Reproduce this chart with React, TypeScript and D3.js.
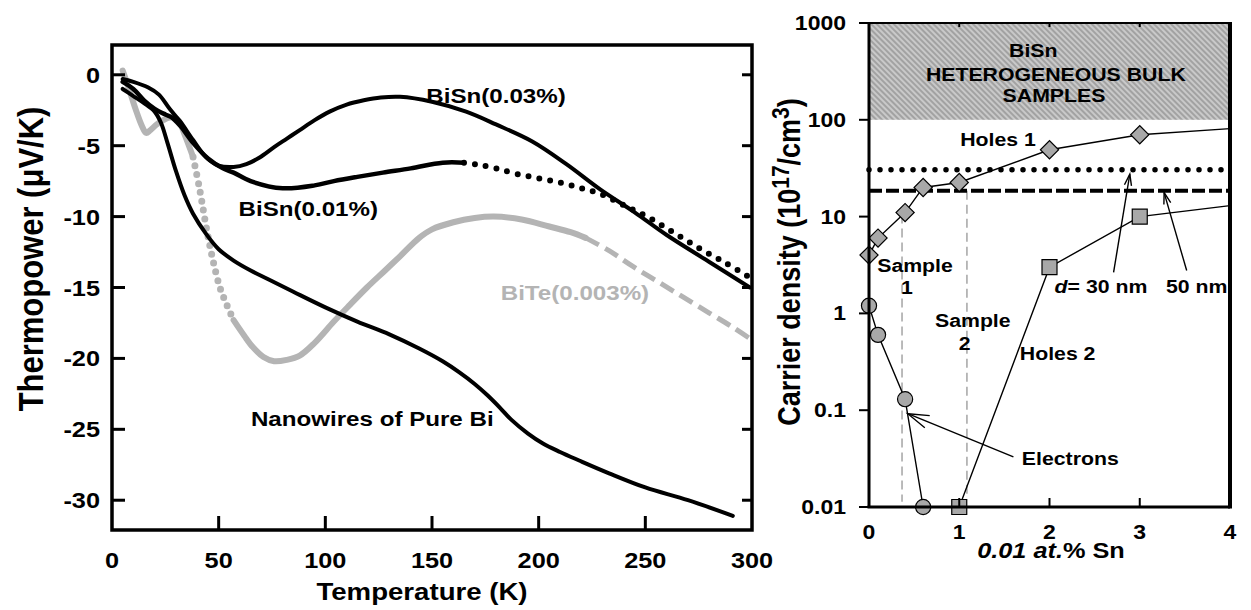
import React from "react";
import * as d3 from "d3";

// ---- left panel: thermopower vs temperature ----
const tempTicks = [0, 50, 100, 150, 200, 250, 300];
const tpTicks = [0, -5, -10, -15, -20, -25, -30];

const bisn003 = [
  [5, -0.3], [10, -0.5], [17, -0.9], [22, -1.4], [27, -2.4], [32, -3.3],
  [38, -4.6], [44, -5.8], [50, -6.4], [57, -6.5], [63, -6.3], [69, -5.85],
  [76, -5.1], [82, -4.5], [88, -3.9], [95, -3.2], [102, -2.6], [110, -2.1],
  [118, -1.8], [126, -1.6], [135, -1.55], [150, -1.9], [166, -2.6], [180, -3.5],
  [197, -4.7], [213, -6.3], [229, -8.1], [245, -9.7], [260, -11.3], [280, -13.2],
  [299, -15.0],
];

const bisn001 = [
  [5, -0.5], [10, -1.0], [15, -1.8], [20, -2.4], [25, -2.8], [28, -3.0],
  [32, -3.6], [38, -4.8], [45, -5.9], [52, -6.6], [57, -6.9], [65, -7.5],
  [80, -8.0], [95, -7.8], [104, -7.5], [115, -7.2], [127, -6.9], [140, -6.6],
  [155, -6.2], [165, -6.2], [172, -6.35], [180, -6.6], [190, -7.0], [200, -7.3],
  [210, -7.6], [220, -8.0], [229, -8.4], [240, -9.2], [252, -10.1], [264, -11.2],
  [276, -12.3], [288, -13.3], [299, -14.3],
];
const bisn001DotsFrom = 165;

const biTe = [
  [5, 0.3], [8, -1.0], [11, -2.4], [14, -3.6], [16, -4.1], [18, -3.9],
  [21, -3.5], [24, -3.2], [28, -3.0], [31, -3.2], [34, -4.2], [38, -5.8],
  [41, -8.0], [44.5, -11.0], [47.5, -13.2], [50.6, -15.0], [54, -16.3], [57, -17.3],
  [62, -18.4], [66, -19.2], [71, -19.9], [76, -20.2], [82, -20.1], [88, -19.8],
  [95, -18.9], [104, -17.4], [111, -16.3], [119.5, -15.0], [128, -13.8], [135, -12.8],
  [144, -11.5], [150, -10.9], [160, -10.4], [170, -10.1], [179, -10.0], [192, -10.2],
  [205, -10.7], [215, -11.1], [222, -11.5], [233, -12.4], [244, -13.5], [256, -14.6],
  [268, -15.7], [280, -16.8], [291, -17.8], [300, -18.7],
];
// where the grey trace changes look: solid, sparse dots, solid, dashes
const biTeBreaks = [5, 38, 57, 222, 300];

const pureBi = [
  [5, -1.0], [10, -1.5], [15, -2.0], [20, -2.6], [23, -3.4], [26, -4.8],
  [30, -6.8], [34, -8.5], [38, -9.8], [44, -11.2], [50, -12.3], [57, -13.1],
  [65, -13.8], [73, -14.4], [85, -15.3], [100, -16.4], [115, -17.4], [130, -18.3],
  [144, -19.3], [155, -20.2], [163, -21.0], [170, -21.8], [176, -22.6], [182, -23.5],
  [187, -24.3], [195, -25.3], [202, -26.0], [210, -26.6], [219, -27.2], [233, -28.1],
  [250, -29.1], [270, -30.0], [291, -31.1],
];

const leftLabels = [
  { text: "BiSn(0.03%)", t: 180, v: -2.0, grey: false },
  { text: "BiSn(0.01%)", t: 92, v: -9.95, grey: false },
  { text: "BiTe(0.003%)", t: 217, v: -15.9, grey: true },
  { text: "Nanowires of Pure Bi", t: 122, v: -24.8, grey: false },
];

// ---- right panel: carrier density vs Sn content ----
const snTicks = [0, 1, 2, 3, 4];
const densTicks = [0.01, 0.1, 1, 10, 100, 1000];
const densTickLabels = ["0.01", "0.1", "1", "10", "100", "1000"];

// last point of each holes series is where the line leaves the frame (no marker)
const holes1 = [[0, 4], [0.1, 6], [0.4, 11], [0.6, 20], [1, 22.5], [2, 49], [3, 70], [4, 81]];
const holes2 = [[1, 0.01], [2, 3], [3, 10], [4, 13]];
const electrons = [[0, 1.2], [0.1, 0.6], [0.4, 0.13], [0.6, 0.01]];

const wire30 = 30.5;
const wire50 = 18.5;
const bulkRange = [100, 1000];

const sampleLines = [
  { x: 0.366, top: 10.5, bottom: 0.0113 },
  { x: 1.085, top: 18.5, bottom: 0.0125 },
];

const arrows = [
  { from: [1.6, 0.033], to: [0.43, 0.092], head: 22 },
  { from: [2.71, 2.65], to: [2.89, 27.5], head: 12 },
  { from: [3.52, 2.77], to: [3.27, 17.7], head: 12 },
];

const rightLabels = [
  { text: "Holes 1", x: 1.43, y: 54 },
  { text: "Sample", x: 0.51, y: 2.65 },
  { text: "1", x: 0.42, y: 1.57 },
  { text: "Sample", x: 1.15, y: 0.73 },
  { text: "2", x: 1.06, y: 0.416 },
  { text: "Holes 2", x: 2.09, y: 0.327 },
  { text: "Electrons", x: 2.23, y: 0.0271 },
  { text: "50 nm", x: 3.63, y: 1.61 },
];
const bulkLabels = [
  { text: "BiSn", x: 1.82, y: 447 },
  { text: "HETEROGENEOUS BULK", x: 2.07, y: 252 },
  { text: "SAMPLES", x: 2.05, y: 153 },
];

const FONT = "'Liberation Sans', Arial, Helvetica, sans-serif";
const SX = 1.15; // the source lettering is horizontally wide
const GREY = "#b4b4b4";
const MARK = "#a8a8a8";

function T({ x, y, size, anchor = "middle", fill = "#000", rotate = 0, children }: any) {
  return (
    <text
      transform={`translate(${x},${y}) scale(${SX},1)${rotate ? ` rotate(${rotate})` : ""}`}
      fontFamily={FONT}
      fontWeight="bold"
      fontSize={size}
      textAnchor={anchor}
      fill={fill}
    >
      {children}
    </text>
  );
}

export default function App() {
  // left panel scales
  const xL = d3.scaleLinear().domain([0, 300]).range([112, 752]);
  const yL = d3.scaleLinear().domain([2.1, -32.1]).range([45, 530]);
  const lineL = d3
    .line<number[]>()
    .x((d) => xL(d[0]))
    .y((d) => yL(d[1]))
    .curve(d3.curveCatmullRom.alpha(0.5));
  const seg = (data: number[][], t0: number, t1: number) =>
    data.filter((d) => d[0] >= t0 && d[0] <= t1);

  // right panel scales
  const xR = d3.scaleLinear().domain([0, 4]).range([869, 1230]);
  const yR = d3.scaleLog().domain([0.01, 1000]).range([507, 23]);
  const lineR = d3
    .line<number[]>()
    .x((d) => xR(d[0]))
    .y((d) => yR(d[1]));

  const diamond = d3.symbol(d3.symbolSquare, 165)();
  const square = d3.symbol(d3.symbolSquare, 225)();
  const circle = d3.symbol(d3.symbolCircle, 180)();

  const [l0, l1] = xL.range();
  const [b0, t0] = yL.range().slice().reverse();
  const [r0, r1] = xR.range();
  const [rb, rt] = yR.range();

  const biTeStyles = [
    { w: 6, dash: undefined, cap: "round" },
    { w: 7, dash: "0 9", cap: "round" },
    { w: 6, dash: undefined, cap: "round" },
    { w: 5, dash: "15 7", cap: "butt" },
  ];

  return (
    <div style={{ position: "absolute", left: 0, top: 0 }}>
      <svg width={1251} height={610} style={{ display: "block", background: "#fff" }}>
        <defs>
          <pattern
            id="hatch"
            width={4}
            height={4}
            patternUnits="userSpaceOnUse"
            patternTransform="rotate(-45)"
          >
            <rect width={4} height={4} fill="#a2a2a2" />
            <line x1={1} y1={0} x2={1} y2={4} stroke="#dedede" strokeWidth={1.3} />
          </pattern>
          <clipPath id="clipL">
            <rect x={l0} y={t0} width={l1 - l0} height={b0 - t0} />
          </clipPath>
        </defs>

        {/* ===== left panel ===== */}
        <g clipPath="url(#clipL)" fill="none" strokeLinejoin="round">
          {biTeStyles.map((s, i) => (
            <path
              key={i}
              d={lineL(seg(biTe, biTeBreaks[i], biTeBreaks[i + 1])) || ""}
              stroke={GREY}
              strokeWidth={s.w}
              strokeDasharray={s.dash}
              strokeLinecap={s.cap as any}
            />
          ))}
          <path d={lineL(pureBi) || ""} stroke="#000" strokeWidth={4} strokeLinecap="round" />
          <path d={lineL(bisn003) || ""} stroke="#000" strokeWidth={4} strokeLinecap="round" />
          <path
            d={lineL(seg(bisn001, 0, bisn001DotsFrom)) || ""}
            stroke="#000"
            strokeWidth={4.5}
            strokeLinecap="round"
          />
          <path
            d={lineL(seg(bisn001, bisn001DotsFrom, 300)) || ""}
            stroke="#000"
            strokeWidth={6}
            strokeDasharray="0 11"
            strokeLinecap="round"
          />
        </g>

        {/* frame + ticks */}
        <rect x={l0} y={t0} width={l1 - l0} height={b0 - t0} fill="none" stroke="#000" strokeWidth={3.5} />
        {tpTicks.map((v) => (
          <g key={v}>
            <line x1={l0} x2={l0 + 13} y1={yL(v)} y2={yL(v)} stroke="#000" strokeWidth={3} />
            <line x1={l1 - 10} x2={l1} y1={yL(v)} y2={yL(v)} stroke="#000" strokeWidth={3} />
            <T x={100} y={yL(v) + 8} size={22} anchor="end">{v}</T>
          </g>
        ))}
        {tempTicks.map((t) => (
          <g key={t}>
            {t > 0 && t < 300 && (
              <line x1={xL(t)} x2={xL(t)} y1={b0} y2={b0 - 14} stroke="#000" strokeWidth={3} />
            )}
            <T x={xL(t)} y={568} size={22}>{t}</T>
          </g>
        ))}
        <T x={422} y={600} size={24}>Temperature (K)</T>
        <T x={43} y={259} size={31} rotate={-90}>Thermopower (μV/K)</T>

        {leftLabels.map((l) => (
          <T key={l.text} x={xL(l.t)} y={yL(l.v)} size={21} fill={l.grey ? GREY : "#000"}>
            {l.text}
          </T>
        ))}

        {/* ===== right panel ===== */}
        <rect
          x={r0}
          y={yR(bulkRange[1])}
          width={r1 - r0}
          height={yR(bulkRange[0]) - yR(bulkRange[1])}
          fill="url(#hatch)"
        />
        {bulkLabels.map((l) => (
          <T key={l.text} x={xR(l.x)} y={yR(l.y)} size={18.5}>{l.text}</T>
        ))}

        {sampleLines.map((s, i) => (
          <line
            key={i}
            x1={xR(s.x)}
            x2={xR(s.x)}
            y1={yR(s.top)}
            y2={yR(s.bottom)}
            stroke="#aaa"
            strokeWidth={1.6}
            strokeDasharray="9 5"
          />
        ))}

        <line
          x1={r0}
          x2={r1}
          y1={yR(wire30)}
          y2={yR(wire30)}
          stroke="#000"
          strokeWidth={5.5}
          strokeDasharray="0 11"
          strokeLinecap="round"
        />
        <line
          x1={r0}
          x2={r1}
          y1={yR(wire50)}
          y2={yR(wire50)}
          stroke="#000"
          strokeWidth={4}
          strokeDasharray="13 4"
        />

        <g fill="none" stroke="#000" strokeWidth={1.4}>
          <path d={lineR(holes1) || ""} />
          <path d={lineR(holes2) || ""} />
          <path d={lineR(electrons) || ""} />
        </g>

        {arrows.map((a, i) => {
          const fx = xR(a.from[0]);
          const fy = yR(a.from[1]);
          const tx = xR(a.to[0]);
          const ty = yR(a.to[1]);
          const ang = Math.atan2(fy - ty, fx - tx);
          const w = 0.3;
          return (
            <g key={i} stroke="#000" strokeWidth={1.4} fill="none">
              <line x1={fx} y1={fy} x2={tx} y2={ty} />
              <path
                d={`M${tx + a.head * Math.cos(ang - w)},${ty + a.head * Math.sin(ang - w)}L${tx},${ty}L${
                  tx + a.head * Math.cos(ang + w)
                },${ty + a.head * Math.sin(ang + w)}`}
              />
            </g>
          );
        })}

        <g stroke="#000" strokeWidth={1.2} fill={MARK}>
          {electrons.map((d, i) => (
            <path key={"e" + i} d={circle || ""} transform={`translate(${xR(d[0])},${yR(d[1])})`} />
          ))}
          {holes1.slice(0, -1).map((d, i) => (
            <path
              key={"h1" + i}
              d={diamond || ""}
              transform={`translate(${xR(d[0])},${yR(d[1])}) rotate(45)`}
            />
          ))}
          {holes2.slice(0, -1).map((d, i) => (
            <path key={"h2" + i} d={square || ""} transform={`translate(${xR(d[0])},${yR(d[1])})`} />
          ))}
        </g>

        {/* frame */}
        <line x1={r0} x2={r1} y1={rt} y2={rt} stroke="#000" strokeWidth={2} />
        <line x1={r0} x2={r0} y1={rt} y2={rb} stroke="#000" strokeWidth={3} />
        <line x1={r1} x2={r1} y1={rt - 1} y2={rb + 1.5} stroke="#000" strokeWidth={4} />
        <line x1={r0 - 1.5} x2={r1} y1={rb} y2={rb} stroke="#000" strokeWidth={3} />
        {densTicks.map((v, i) => (
          <g key={v}>
            <line x1={r0 - 10} x2={r0} y1={yR(v)} y2={yR(v)} stroke="#000" strokeWidth={2} />
            <T x={846} y={yR(v) + 7} size={20} anchor="end">{densTickLabels[i]}</T>
          </g>
        ))}
        {snTicks.map((s) => (
          <g key={s}>
            {s > 0 && s < 4 && (
              <g stroke="#000" strokeWidth={2}>
                <line x1={xR(s)} x2={xR(s)} y1={rb} y2={rb - 9} />
                <line x1={xR(s)} x2={xR(s)} y1={rt} y2={rt + 4} />
              </g>
            )}
            <T x={xR(s)} y={539} size={20}>{s}</T>
          </g>
        ))}

        {rightLabels.map((l, i) => (
          <T key={i} x={xR(l.x)} y={yR(l.y)} size={18.5}>{l.text}</T>
        ))}
        <T x={xR(2.57)} y={yR(1.61)} size={18.5}>
          <tspan fontStyle="italic">d</tspan>= 30 nm
        </T>

        <T x={1051} y={558} size={22}>
          <tspan fontStyle="italic">0.01 at.</tspan>% Sn
        </T>
        <T x={800} y={262} size={27} rotate={-90}>
          Carrier density (10
          <tspan dy={-10} fontSize={21}>17</tspan>
          <tspan dy={10}>/cm</tspan>
          <tspan dy={-10} fontSize={21}>3</tspan>
          <tspan dy={10}>)</tspan>
        </T>
      </svg>
    </div>
  );
}
